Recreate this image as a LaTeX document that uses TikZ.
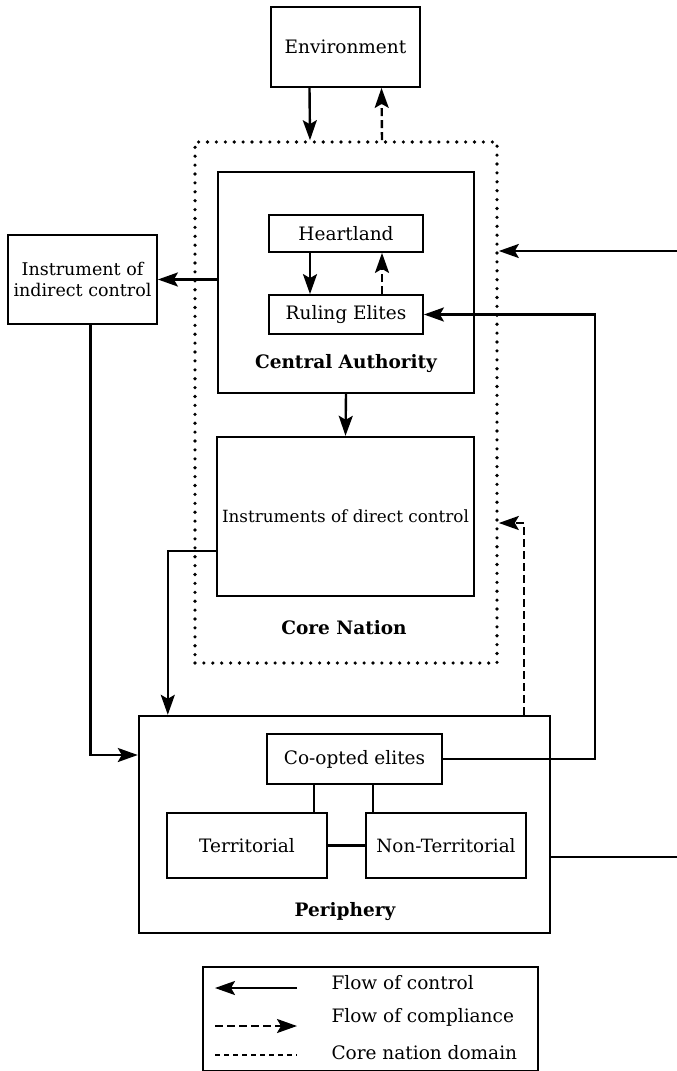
\documentclass[tikz,border=0pt]{standalone}
\usepackage{fontspec}
\setmainfont{DejaVu Serif}
\usetikzlibrary{arrows.meta}
\begin{document}
\begin{tikzpicture}[x=1pt,y=-1pt,
  box/.style={draw,line width=1.8pt,inner sep=0pt,font=\fontsize{18.5}{22}\selectfont,align=center},
  bigbox/.style={draw,line width=2.4pt,inner sep=0pt},
  lbl/.style={font=\fontsize{18.5}{22}\selectfont\bfseries},
  ctrl/.style={line width=2.4pt,-{Stealth[length=20pt,width=14pt,inset=4pt]}},
  comp/.style={line width=2.4pt,dash pattern=on 8pt off 4pt,-{Stealth[length=20pt,width=14pt,inset=4pt]}},
  plain/.style={line width=2.4pt},
  dom/.style={draw,line width=3.6pt,dash pattern=on 0pt off 8.9pt,line cap=round},
  legtxt/.style={anchor=west,font=\fontsize{18.5}{22}\selectfont}]
\useasboundingbox (0,0) rectangle (677,1071);
% boxes
\node[box,minimum width=149pt,minimum height=80pt] (env) at (345.5,47) {Environment};
\node[dom,minimum width=302pt,minimum height=521pt] (core) at (346,402.5) {};
\node[bigbox,minimum width=256pt,minimum height=221pt] (ca) at (346,282.5) {};
\node[box,minimum width=154pt,minimum height=37pt] (heart) at (346,233.5) {Heartland};
\node[box,minimum width=154pt,minimum height=39pt] (rul) at (346,314.5) {Ruling Elites};
\node[lbl] (calbl) at (346,364) {Central Authority};
\node[bigbox,minimum width=257pt,minimum height=159pt,font=\fontsize{16.8}{20}\selectfont] (inst) at (345.5,516.5) {Instruments of direct control};
\node[lbl] (cnlbl) at (344,628) {Core Nation};
\node[box,minimum width=149pt,minimum height=89pt,font=\fontsize{17.5}{21}\selectfont] (ind) at (82.5,279.5) {Instrument of\\indirect control};
\node[bigbox,minimum width=411pt,minimum height=217pt] (per) at (344.5,824.5) {};
\node[box,minimum width=175pt,minimum height=50pt] (co) at (354.5,759) {Co-opted elites};
\node[box,minimum width=160pt,minimum height=65pt] (ter) at (247,845.5) {Territorial};
\node[box,minimum width=160pt,minimum height=65pt,font=\fontsize{18.3}{21}\selectfont] (nt) at (446,845.5) {Non-Territorial};
\node[lbl] (perlbl) at (345,912) {Periphery};
% connectors
\draw[ctrl] ([xshift=-36pt]env.south) -- ([xshift=-36pt]core.north);
\draw[comp] ([xshift=36pt]core.north) -- ([xshift=36pt]env.south);
\draw[ctrl] ([xshift=-36pt]heart.south) -- ([xshift=-36pt]rul.north);
\draw[comp] ([xshift=36pt]rul.north) -- ([xshift=36pt]heart.south);
\draw[ctrl] (ca.south) -- (inst.north);
\draw[ctrl] (ca.west |- ind.east) -- (ind.east);
\draw[ctrl] ([xshift=8pt]ind.south) |- ([yshift=69.5pt]per.west);
\draw[ctrl] ([yshift=-34.5pt]inst.west) -| ([xshift=30pt]per.north west);
\draw[ctrl] (co.east) -- ++(152,0) |- (rul.east);
\draw[comp] ([xshift=179.5pt]per.north) |- ([yshift=-120.5pt]core.east);
\coordinate (r1) at (677,251);
\coordinate (r2) at (677,857);
\draw[ctrl] (r1) -- (core.east |- r1);
\draw[plain] (per.east |- r2) -- (r2);
\coordinate (c1) at ([xshift=-40.5pt]co.south);
\coordinate (c2) at ([xshift=18.5pt]co.south);
\draw[plain] (c1) -- (c1 |- ter.north);
\draw[plain] (c2) -- (c2 |- nt.north);
\draw[plain] (ter.east) -- (nt.west);
% legend
\draw[line width=2.2pt] (203,1071) -- (203,967) -- (538,967) -- (538,1071) -- cycle;
\coordinate (la1) at (297,988); \coordinate (lb1) at (215,988);
\coordinate (la2) at (215,1026); \coordinate (lb2) at (297,1026);
\coordinate (la3) at (215,1055); \coordinate (lb3) at (297,1055);
\draw[ctrl] (la1) -- (lb1);
\draw[comp] (la2) -- (lb2);
\draw[line width=1.8pt,dash pattern=on 5pt off 4pt] (la3) -- (lb3);
\node[legtxt] (t1) at (328,983) {Flow of control};
\node[legtxt] (t2) at (328,1017) {Flow of compliance};
\node[legtxt] (t3) at (328,1053) {Core nation domain};
\end{tikzpicture}
\end{document}
